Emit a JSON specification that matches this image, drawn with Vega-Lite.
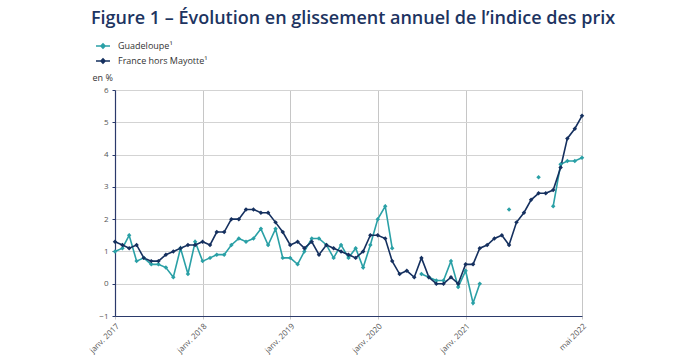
{
  "$schema": "https://vega.github.io/schema/vega-lite/v6.json",
  "width": 467,
  "height": 226,
  "autosize": {"type": "none"},
  "padding": {"left": 115, "top": 90, "right": 108, "bottom": 45},
  "background": "white",
  "title": {
    "text": "Figure 1 – Évolution en glissement annuel de l’indice des prix",
    "anchor": "start",
    "frame": "group",
    "dx": -24,
    "offset": 10,
    "font": "Open Sans",
    "fontSize": 18,
    "fontWeight": 600,
    "color": "#1d3461"
  },
  "config": {
    "view": {"stroke": null},
    "font": "Open Sans"
  },
  "data": {
    "values": [
      {"mois": "2017-01", "Guadeloupe": 1.0, "France": 1.3},
      {"mois": "2017-02", "Guadeloupe": 1.1, "France": 1.2},
      {"mois": "2017-03", "Guadeloupe": 1.5, "France": 1.1},
      {"mois": "2017-04", "Guadeloupe": 0.7, "France": 1.2},
      {"mois": "2017-05", "Guadeloupe": 0.8, "France": 0.8},
      {"mois": "2017-06", "Guadeloupe": 0.6, "France": 0.7},
      {"mois": "2017-07", "Guadeloupe": 0.6, "France": 0.7},
      {"mois": "2017-08", "Guadeloupe": 0.5, "France": 0.9},
      {"mois": "2017-09", "Guadeloupe": 0.2, "France": 1.0},
      {"mois": "2017-10", "Guadeloupe": 1.1, "France": 1.1},
      {"mois": "2017-11", "Guadeloupe": 0.3, "France": 1.2},
      {"mois": "2017-12", "Guadeloupe": 1.3, "France": 1.2},
      {"mois": "2018-01", "Guadeloupe": 0.7, "France": 1.3},
      {"mois": "2018-02", "Guadeloupe": 0.8, "France": 1.2},
      {"mois": "2018-03", "Guadeloupe": 0.9, "France": 1.6},
      {"mois": "2018-04", "Guadeloupe": 0.9, "France": 1.6},
      {"mois": "2018-05", "Guadeloupe": 1.2, "France": 2.0},
      {"mois": "2018-06", "Guadeloupe": 1.4, "France": 2.0},
      {"mois": "2018-07", "Guadeloupe": 1.3, "France": 2.3},
      {"mois": "2018-08", "Guadeloupe": 1.4, "France": 2.3},
      {"mois": "2018-09", "Guadeloupe": 1.7, "France": 2.2},
      {"mois": "2018-10", "Guadeloupe": 1.2, "France": 2.2},
      {"mois": "2018-11", "Guadeloupe": 1.7, "France": 1.9},
      {"mois": "2018-12", "Guadeloupe": 0.8, "France": 1.6},
      {"mois": "2019-01", "Guadeloupe": 0.8, "France": 1.2},
      {"mois": "2019-02", "Guadeloupe": 0.6, "France": 1.3},
      {"mois": "2019-03", "Guadeloupe": 1.0, "France": 1.1},
      {"mois": "2019-04", "Guadeloupe": 1.4, "France": 1.3},
      {"mois": "2019-05", "Guadeloupe": 1.4, "France": 0.9},
      {"mois": "2019-06", "Guadeloupe": 1.2, "France": 1.2},
      {"mois": "2019-07", "Guadeloupe": 0.8, "France": 1.1},
      {"mois": "2019-08", "Guadeloupe": 1.2, "France": 1.0},
      {"mois": "2019-09", "Guadeloupe": 0.8, "France": 0.9},
      {"mois": "2019-10", "Guadeloupe": 1.1, "France": 0.8},
      {"mois": "2019-11", "Guadeloupe": 0.5, "France": 1.0},
      {"mois": "2019-12", "Guadeloupe": 1.2, "France": 1.5},
      {"mois": "2020-01", "Guadeloupe": 2.0, "France": 1.5},
      {"mois": "2020-02", "Guadeloupe": 2.4, "France": 1.4},
      {"mois": "2020-03", "Guadeloupe": 1.1, "France": 0.7},
      {"mois": "2020-04", "Guadeloupe": null, "France": 0.3},
      {"mois": "2020-05", "Guadeloupe": null, "France": 0.4},
      {"mois": "2020-06", "Guadeloupe": null, "France": 0.2},
      {"mois": "2020-07", "Guadeloupe": 0.3, "France": 0.8},
      {"mois": "2020-08", "Guadeloupe": 0.2, "France": 0.2},
      {"mois": "2020-09", "Guadeloupe": 0.1, "France": 0.0},
      {"mois": "2020-10", "Guadeloupe": 0.1, "France": 0.0},
      {"mois": "2020-11", "Guadeloupe": 0.7, "France": 0.2},
      {"mois": "2020-12", "Guadeloupe": -0.1, "France": 0.0},
      {"mois": "2021-01", "Guadeloupe": 0.4, "France": 0.6},
      {"mois": "2021-02", "Guadeloupe": -0.6, "France": 0.6},
      {"mois": "2021-03", "Guadeloupe": 0.0, "France": 1.1},
      {"mois": "2021-04", "Guadeloupe": null, "France": 1.2},
      {"mois": "2021-05", "Guadeloupe": null, "France": 1.4},
      {"mois": "2021-06", "Guadeloupe": null, "France": 1.5},
      {"mois": "2021-07", "Guadeloupe": 2.3, "France": 1.2},
      {"mois": "2021-08", "Guadeloupe": null, "France": 1.9},
      {"mois": "2021-09", "Guadeloupe": null, "France": 2.2},
      {"mois": "2021-10", "Guadeloupe": null, "France": 2.6},
      {"mois": "2021-11", "Guadeloupe": 3.3, "France": 2.8},
      {"mois": "2021-12", "Guadeloupe": null, "France": 2.8},
      {"mois": "2022-01", "Guadeloupe": 2.4, "France": 2.9},
      {"mois": "2022-02", "Guadeloupe": 3.7, "France": 3.6},
      {"mois": "2022-03", "Guadeloupe": 3.8, "France": 4.5},
      {"mois": "2022-04", "Guadeloupe": 3.8, "France": 4.8},
      {"mois": "2022-05", "Guadeloupe": 3.9, "France": 5.2}
    ]
  },
  "transform": [
    {"fold": ["Guadeloupe", "France"], "as": ["serie", "valeur"]}
  ],
  "encoding": {
    "x": {
      "field": "mois",
      "type": "temporal",
      "scale": {
        "type": "utc",
        "domain": [
          {"year": 2017, "month": 1, "date": 1, "utc": true},
          {"year": 2022, "month": 5, "date": 1, "utc": true}
        ]
      },
      "axis": {
        "title": null,
        "values": [
          {"year": 2017, "month": 1, "date": 1, "utc": true},
          {"year": 2018, "month": 1, "date": 1, "utc": true},
          {"year": 2019, "month": 1, "date": 1, "utc": true},
          {"year": 2020, "month": 1, "date": 1, "utc": true},
          {"year": 2021, "month": 1, "date": 1, "utc": true},
          {"year": 2022, "month": 5, "date": 1, "utc": true}
        ],
        "labelExpr": "(utcmonth(datum.value) == 0 ? 'janv. ' : 'mai ') + utcyear(datum.value)",
        "labelAngle": -45,
        "labelAlign": "right",
        "labelBaseline": "top",
        "labelFontSize": 8,
        "labelColor": "#555555",
        "labelPadding": 3,
        "grid": true,
        "gridColor": "#c6c6c6",
        "gridWidth": 1,
        "domainColor": "#2b3a6b",
        "domainWidth": 1.2,
        "tickColor": "#c6c6c6",
        "tickSize": 3
      }
    },
    "y": {
      "field": "valeur",
      "type": "quantitative",
      "scale": {"domain": [-1, 6], "nice": false, "zero": false},
      "axis": {
        "values": [-1, 0, 1, 2, 3, 4, 5, 6],
        "title": "en %",
        "titleAngle": 0,
        "titleAlign": "left",
        "titleBaseline": "bottom",
        "titleX": -23,
        "titleY": -8,
        "titleFontSize": 9,
        "titleFontWeight": "normal",
        "titleColor": "#333333",
        "labelFontSize": 8,
        "labelColor": "#555555",
        "labelPadding": 4,
        "grid": true,
        "gridColor": "#d3d3d3",
        "gridWidth": 1,
        "domainColor": "#2b3a6b",
        "domainWidth": 1.2,
        "tickColor": "#2b3a6b",
        "tickSize": 3
      }
    },
    "color": {
      "field": "serie",
      "type": "nominal",
      "scale": {"domain": ["Guadeloupe", "France"], "range": ["#2aa0a6", "#15305f"]},
      "legend": {
        "orient": "none",
        "legendX": -20,
        "legendY": -52,
        "title": null,
        "labelExpr": "datum.label == 'Guadeloupe' ? 'Guadeloupe¹' : 'France hors Mayotte¹'",
        "symbolType": "M-1,0L1,0M-0.3,0L0,-0.3L0.3,0L0,0.3Z",
        "symbolSize": 196,
        "symbolStrokeWidth": 1.5,
        "labelFontSize": 9,
        "labelColor": "#333333",
        "labelOffset": 7,
        "rowPadding": 1
      }
    }
  },
  "layer": [
    {
      "mark": {"type": "line", "strokeWidth": 1.6, "invalid": "break-paths-filter-domains"}
    },
    {
      "mark": {"type": "point", "shape": "diamond", "filled": true, "size": 20, "opacity": 1}
    }
  ]
}
